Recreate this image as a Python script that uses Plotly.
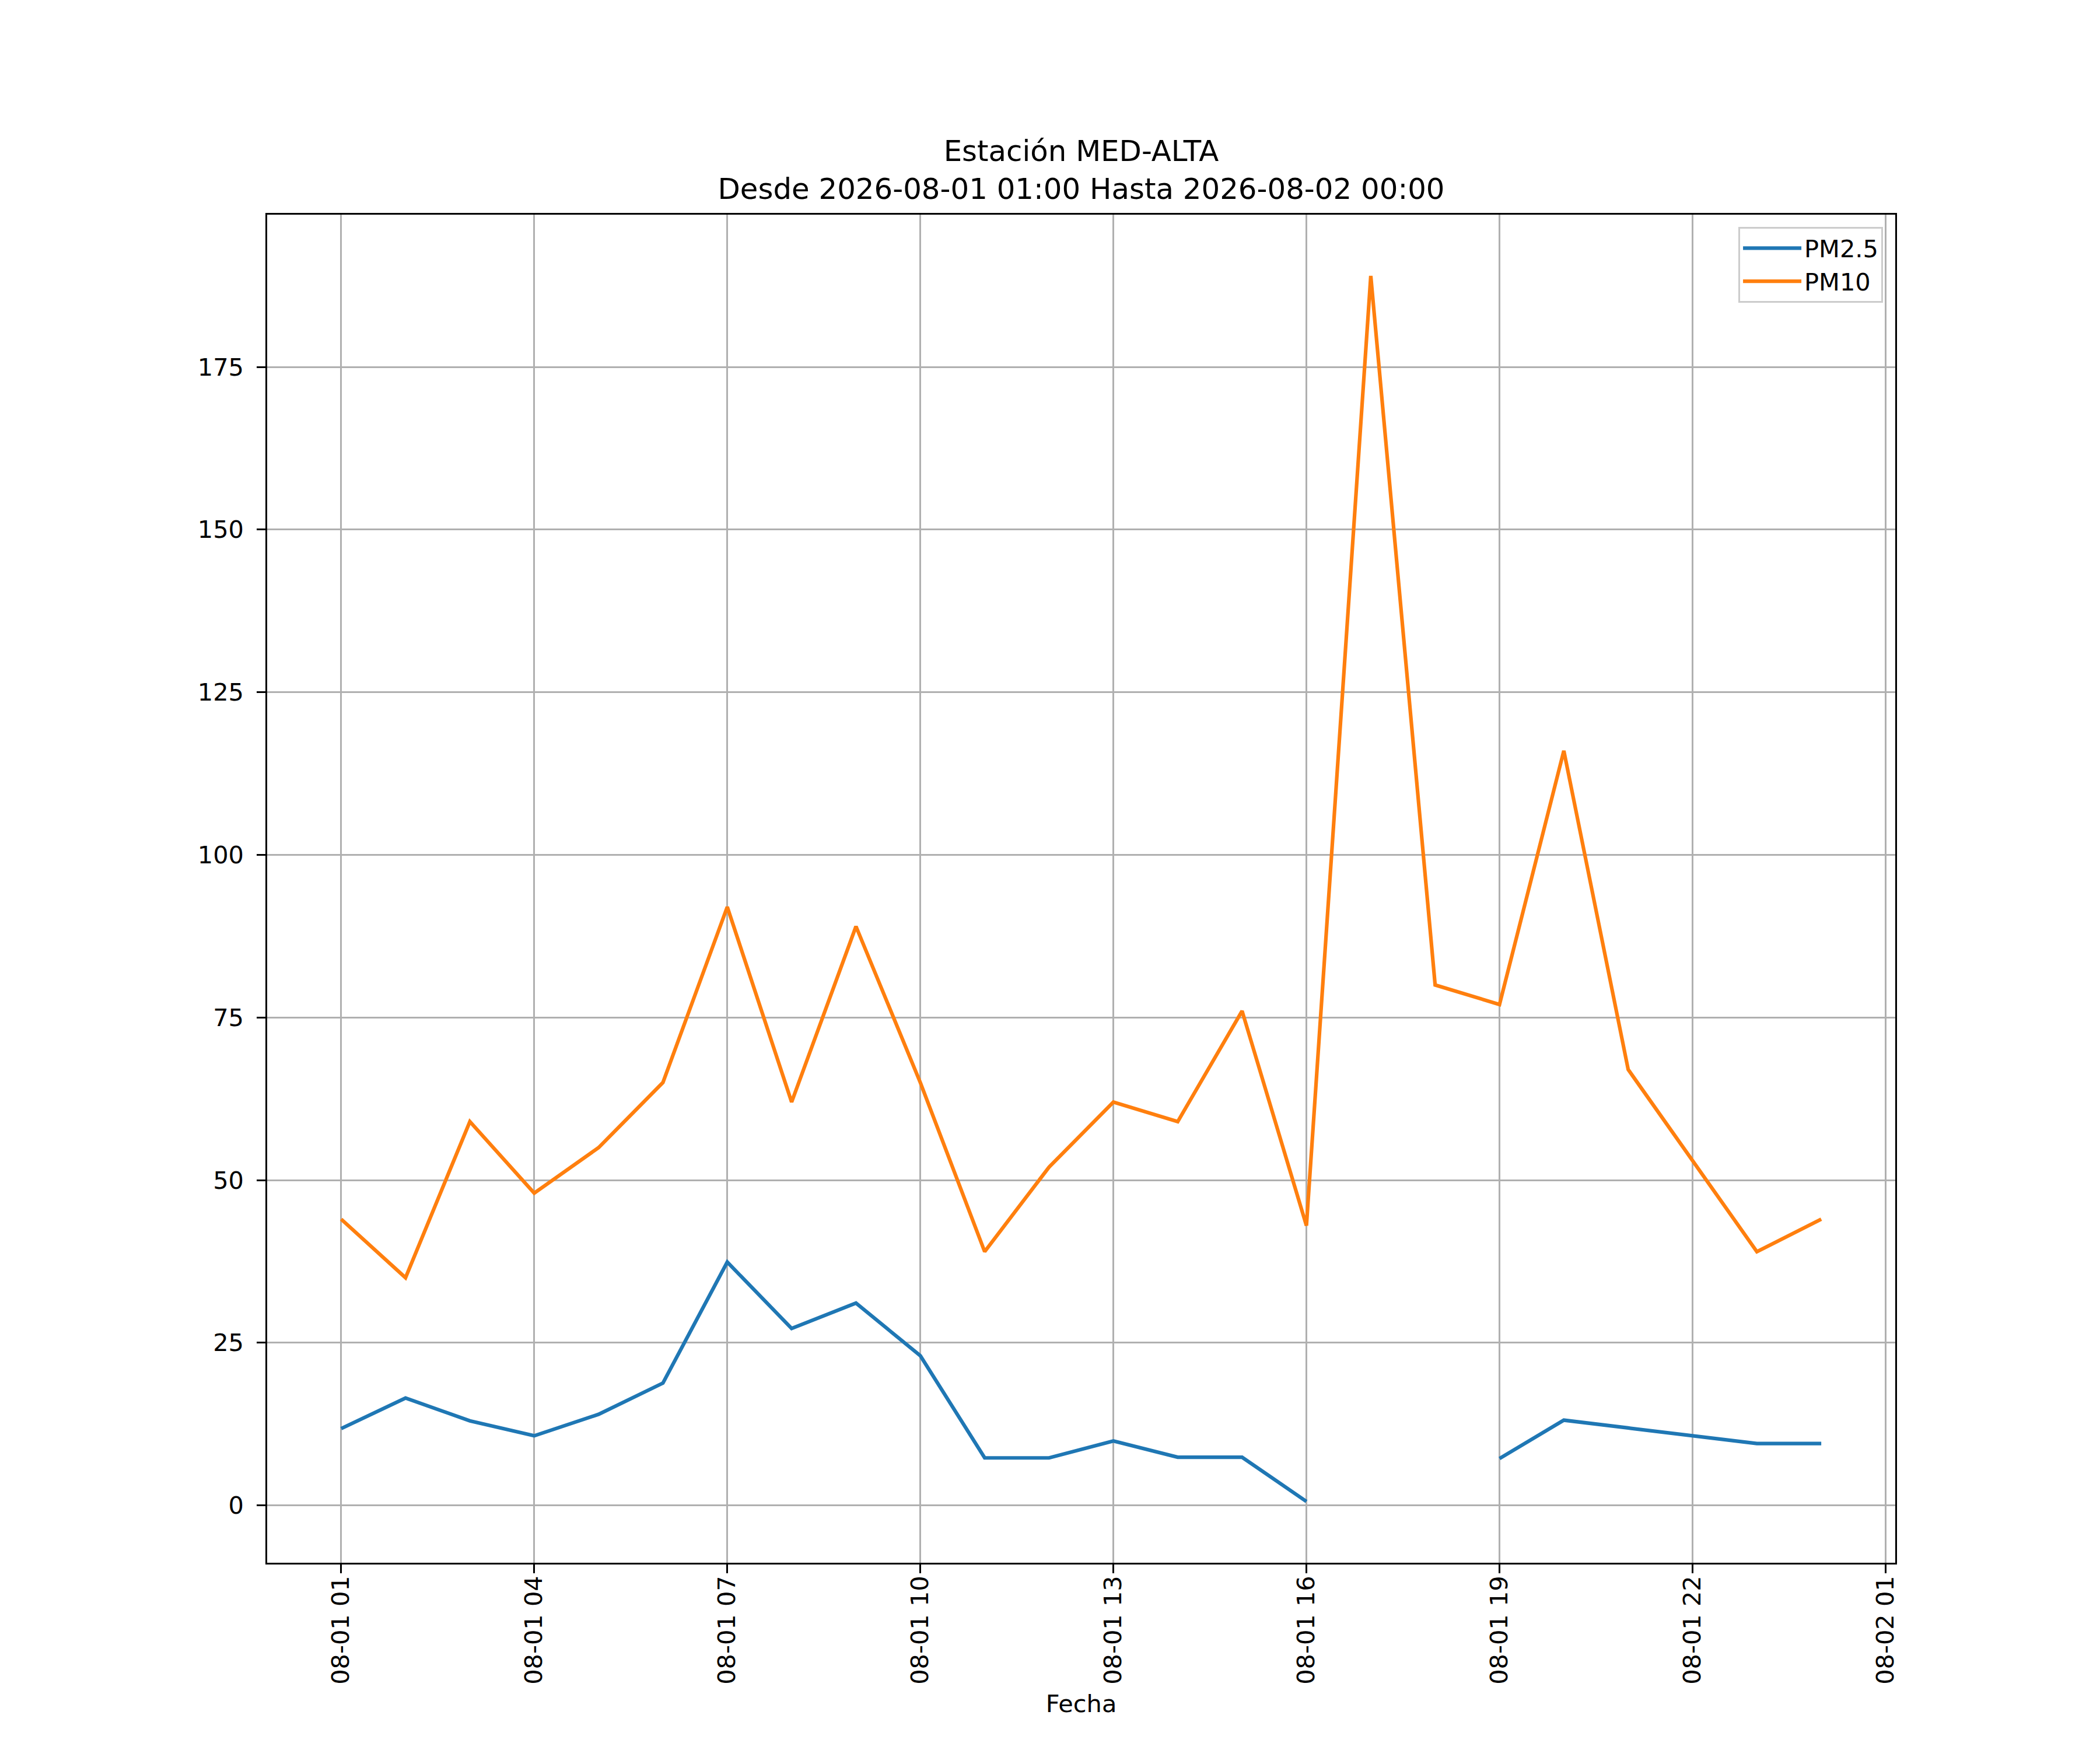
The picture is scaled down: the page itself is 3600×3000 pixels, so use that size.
import plotly.graph_objects as go
import pandas as pd

# hourly readings, 2026-08-01 01:00 .. 2026-08-02 00:00
fechas = pd.date_range("2026-08-01 01:00", periods=24, freq="h")

pm25 = [11.8, 16.5, 13.0, 10.7, 14.0, 18.8, 37.4, 27.2, 31.1, 23.0,
        7.3, 7.3, 9.9, 7.4, 7.4, 0.6, None, None, 7.2, 13.1,
        11.9, 10.7, 9.5, 9.5]
pm10 = [44, 35, 59, 48, 55, 65, 92, 62, 89, 65,
        39, 52, 62, 59, 76, 43, 189, 80, 77, 116,
        67, 53, 39, 44]

series_names = ["PM2.5", "PM10"]
colores = ["#1f77b4", "#ff7f0e"]

PT = 4.15  # page px per matplotlib point

fig = go.Figure()
for nombre, vals, col in zip(series_names, [pm25, pm10], colores):
    fig.add_trace(go.Scatter(x=fechas, y=vals, mode="lines", name=nombre,
                             line=dict(color=col, width=1.5 * PT),
                             connectgaps=False))

# matplotlib-style 5% margins
span = fechas[-1] - fechas[0]
xr = [fechas[0] - span * 0.05, fechas[-1] + span * 0.05]
todos = [v for v in pm25 + pm10 if v is not None]
lo, hi = min(todos), max(todos)
yr = [lo - (hi - lo) * 0.05, hi + (hi - lo) * 0.05]

axis_common = dict(showline=True, linecolor="black", linewidth=0.8 * PT,
                   mirror=True, showgrid=True, gridcolor="#b0b0b0",
                   gridwidth=0.8 * PT, ticks="outside",
                   ticklen=3.5 * PT, tickwidth=0.8 * PT,
                   tickcolor="black", zeroline=False,
                   tickfont=dict(size=10 * PT, color="black"))

fig.update_xaxes(range=xr, type="date", tick0="2026-08-01 01:00",
                 dtick=3 * 3600 * 1000, tickformat="%m-%d %H", tickangle=-90,
                 ticklabelstandoff=-12,
                 title=dict(text="Fecha", standoff=20,
                            font=dict(size=10 * PT, color="black")),
                 **axis_common)
fig.update_yaxes(range=yr, tick0=0, dtick=25, ticklabelstandoff=14,
                 **axis_common)

fig.update_layout(
    width=3600, height=3000,
    plot_bgcolor="white", paper_bgcolor="white",
    font=dict(family="DejaVu Sans", color="black"),
    margin=dict(l=450, r=359, t=360, b=329),
    title=dict(text="Estación MED-ALTA<br>Desde 2026-08-01 01:00 Hasta 2026-08-02 00:00",
               x=0.5, xref="paper", xanchor="center",
               y=1 - 268 / 3000, yref="container", yanchor="top",
               font=dict(size=12 * PT, color="black")),
    legend=dict(x=0.9925, y=0.991, xanchor="right", yanchor="top",
                bgcolor="rgba(255,255,255,0.8)", bordercolor="#cccccc",
                borderwidth=3, font=dict(size=10 * PT),
                itemwidth=100, tracegroupgap=4),
)

fig.write_html("out.html")
